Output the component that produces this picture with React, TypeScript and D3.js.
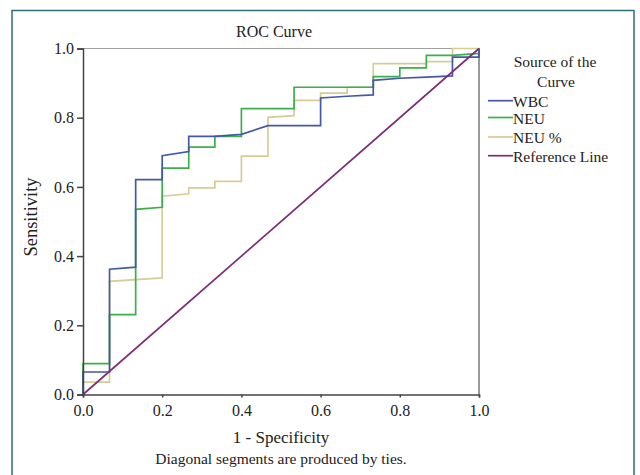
import React, { useRef, useEffect } from "react";
import * as d3 from "d3";

// ROC points (1 - specificity, sensitivity)
const wbcPoints: [number, number][] = [
  [0, 0], [0, 0.065], [0.067, 0.065], [0.067, 0.362], [0.133, 0.368], [0.133, 0.621],
  [0.2, 0.621], [0.2, 0.69], [0.267, 0.702], [0.267, 0.746], [0.333, 0.746], [0.4, 0.752],
  [0.467, 0.777], [0.6, 0.777], [0.6, 0.857], [0.667, 0.862], [0.733, 0.866], [0.733, 0.908],
  [0.8, 0.914], [0.867, 0.917], [0.933, 0.921], [0.933, 0.975], [1, 0.975], [1, 1]
];
const neuPoints: [number, number][] = [
  [0, 0], [0, 0.089], [0.067, 0.089], [0.067, 0.231], [0.133, 0.231], [0.133, 0.535],
  [0.2, 0.541], [0.2, 0.654], [0.267, 0.654], [0.267, 0.715], [0.333, 0.715], [0.333, 0.746],
  [0.4, 0.746], [0.4, 0.826], [0.533, 0.826], [0.533, 0.888], [0.733, 0.888], [0.733, 0.919],
  [0.8, 0.919], [0.8, 0.944], [0.867, 0.944], [0.867, 0.98], [0.933, 0.98], [1, 0.986], [1, 1]
];
const neuPctPoints: [number, number][] = [
  [0, 0], [0, 0.036], [0.067, 0.036], [0.067, 0.327], [0.2, 0.337], [0.2, 0.573],
  [0.267, 0.58], [0.267, 0.597], [0.333, 0.597], [0.333, 0.616], [0.4, 0.616], [0.4, 0.689],
  [0.467, 0.689], [0.467, 0.801], [0.533, 0.806], [0.533, 0.85], [0.6, 0.85], [0.6, 0.871],
  [0.667, 0.871], [0.667, 0.888], [0.733, 0.888], [0.733, 0.956], [0.867, 0.956],
  [0.867, 0.962], [0.933, 0.962], [0.933, 1], [1, 1]
];
const refPoints: [number, number][] = [[0, 0], [1, 1]];

const seriesNames = ["WBC", "NEU", "NEU %", "Reference Line"];
const seriesColors = ["#4458a8", "#3bb04a", "#d8cc96", "#7d2e74"];
const tickValues = [0, 0.2, 0.4, 0.6, 0.8, 1.0];

const font = "'Liberation Serif', 'DejaVu Serif', serif";

export default function App() {
  const ref = useRef<SVGSVGElement>(null);

  useEffect(() => {
    const width = 640, height = 475;
    const svg = d3.select(ref.current);
    svg.selectAll("*").remove();
    svg.attr("width", width).attr("height", height).style("font-family", font);

    // outer frame
    svg.append("rect")
      .attr("x", 0).attr("y", 0).attr("width", width).attr("height", height).attr("fill", "#fff");
    svg.append("path")
      .attr("d", `M12,${height + 2}V10.5H634V${height + 2}`)
      .attr("fill", "none").attr("stroke", "#2d6e79").attr("stroke-width", 1.5);

    const x = d3.scaleLinear().domain([0, 1]).range([83, 479]);
    const y = d3.scaleLinear().domain([0, 1]).range([394.5, 48.5]);

    // plot border (top/right lighter)
    svg.append("line").attr("x1", x(0)).attr("x2", x(1)).attr("y1", y(1)).attr("y2", y(1))
      .attr("stroke", "#a0a0a0").attr("stroke-width", 1);
    svg.append("line").attr("x1", x(1)).attr("x2", x(1)).attr("y1", y(1)).attr("y2", y(0))
      .attr("stroke", "#777").attr("stroke-width", 1.5);

    const line = d3.line<[number, number]>().x(d => x(d[0])).y(d => y(d[1]));
    const allSeries = [wbcPoints, neuPoints, neuPctPoints, refPoints];
    // tan first, then green, blue, reference on top
    [2, 1, 0, 3].forEach(i => {
      svg.append("path")
        .datum(allSeries[i])
        .attr("d", line)
        .attr("fill", "none")
        .attr("stroke", seriesColors[i])
        .attr("stroke-width", 1.7);
    });

    // axes
    const yAxis = svg.append("g")
      .attr("transform", `translate(${x(0)},0)`)
      .call(d3.axisLeft(y).tickValues(tickValues).tickFormat(d3.format(".1f")).tickSize(6).tickPadding(3));
    yAxis.selectAll("text").attr("font-size", 16).attr("font-family", font).attr("fill", "#222");
    yAxis.selectAll("path,line").attr("stroke", "#444").attr("stroke-width", 1.5);

    const xAxis = svg.append("g")
      .attr("transform", `translate(0,${y(0)})`)
      .call(d3.axisBottom(x).tickValues(tickValues).tickFormat(d3.format(".1f")).tickSize(3).tickPadding(7));
    xAxis.selectAll("text").attr("font-size", 16).attr("font-family", font).attr("fill", "#222");
    xAxis.selectAll("path,line").attr("stroke", "#444").attr("stroke-width", 1.5);

    // title and axis titles
    svg.append("text").attr("x", 274).attr("y", 37).attr("text-anchor", "middle")
      .attr("font-size", 16).attr("fill", "#222").text("ROC Curve");
    svg.append("text").attr("x", 281).attr("y", 443).attr("text-anchor", "middle")
      .attr("font-size", 17).attr("fill", "#222").text("1 - Specificity");
    svg.append("text").attr("x", 281).attr("y", 463.5).attr("text-anchor", "middle")
      .attr("font-size", 15.5).attr("fill", "#222").text("Diagonal segments are produced by ties.");
    svg.append("text")
      .attr("transform", `translate(37,217) rotate(-90)`)
      .attr("text-anchor", "middle").attr("font-size", 18.5).attr("fill", "#222").text("Sensitivity");

    // legend
    svg.append("text").attr("x", 555).attr("y", 67).attr("text-anchor", "middle")
      .attr("font-size", 15.5).attr("fill", "#222").text("Source of the");
    svg.append("text").attr("x", 556).attr("y", 87).attr("text-anchor", "middle")
      .attr("font-size", 15.5).attr("fill", "#222").text("Curve");
    const legendY = [100.7, 117.5, 137, 155.7];
    seriesNames.forEach((name, i) => {
      const ly = legendY[i];
      svg.append("line").attr("x1", 488).attr("x2", 513).attr("y1", ly).attr("y2", ly)
        .attr("stroke", seriesColors[i]).attr("stroke-width", 1.7);
      svg.append("text").attr("x", 513).attr("y", ly + 6)
        .attr("font-size", 15.5).attr("fill", "#222").text(name);
    });
  }, []);

  return <svg ref={ref} style={{ position: "absolute", left: 0, top: 0, display: "block" }}></svg>;
}
